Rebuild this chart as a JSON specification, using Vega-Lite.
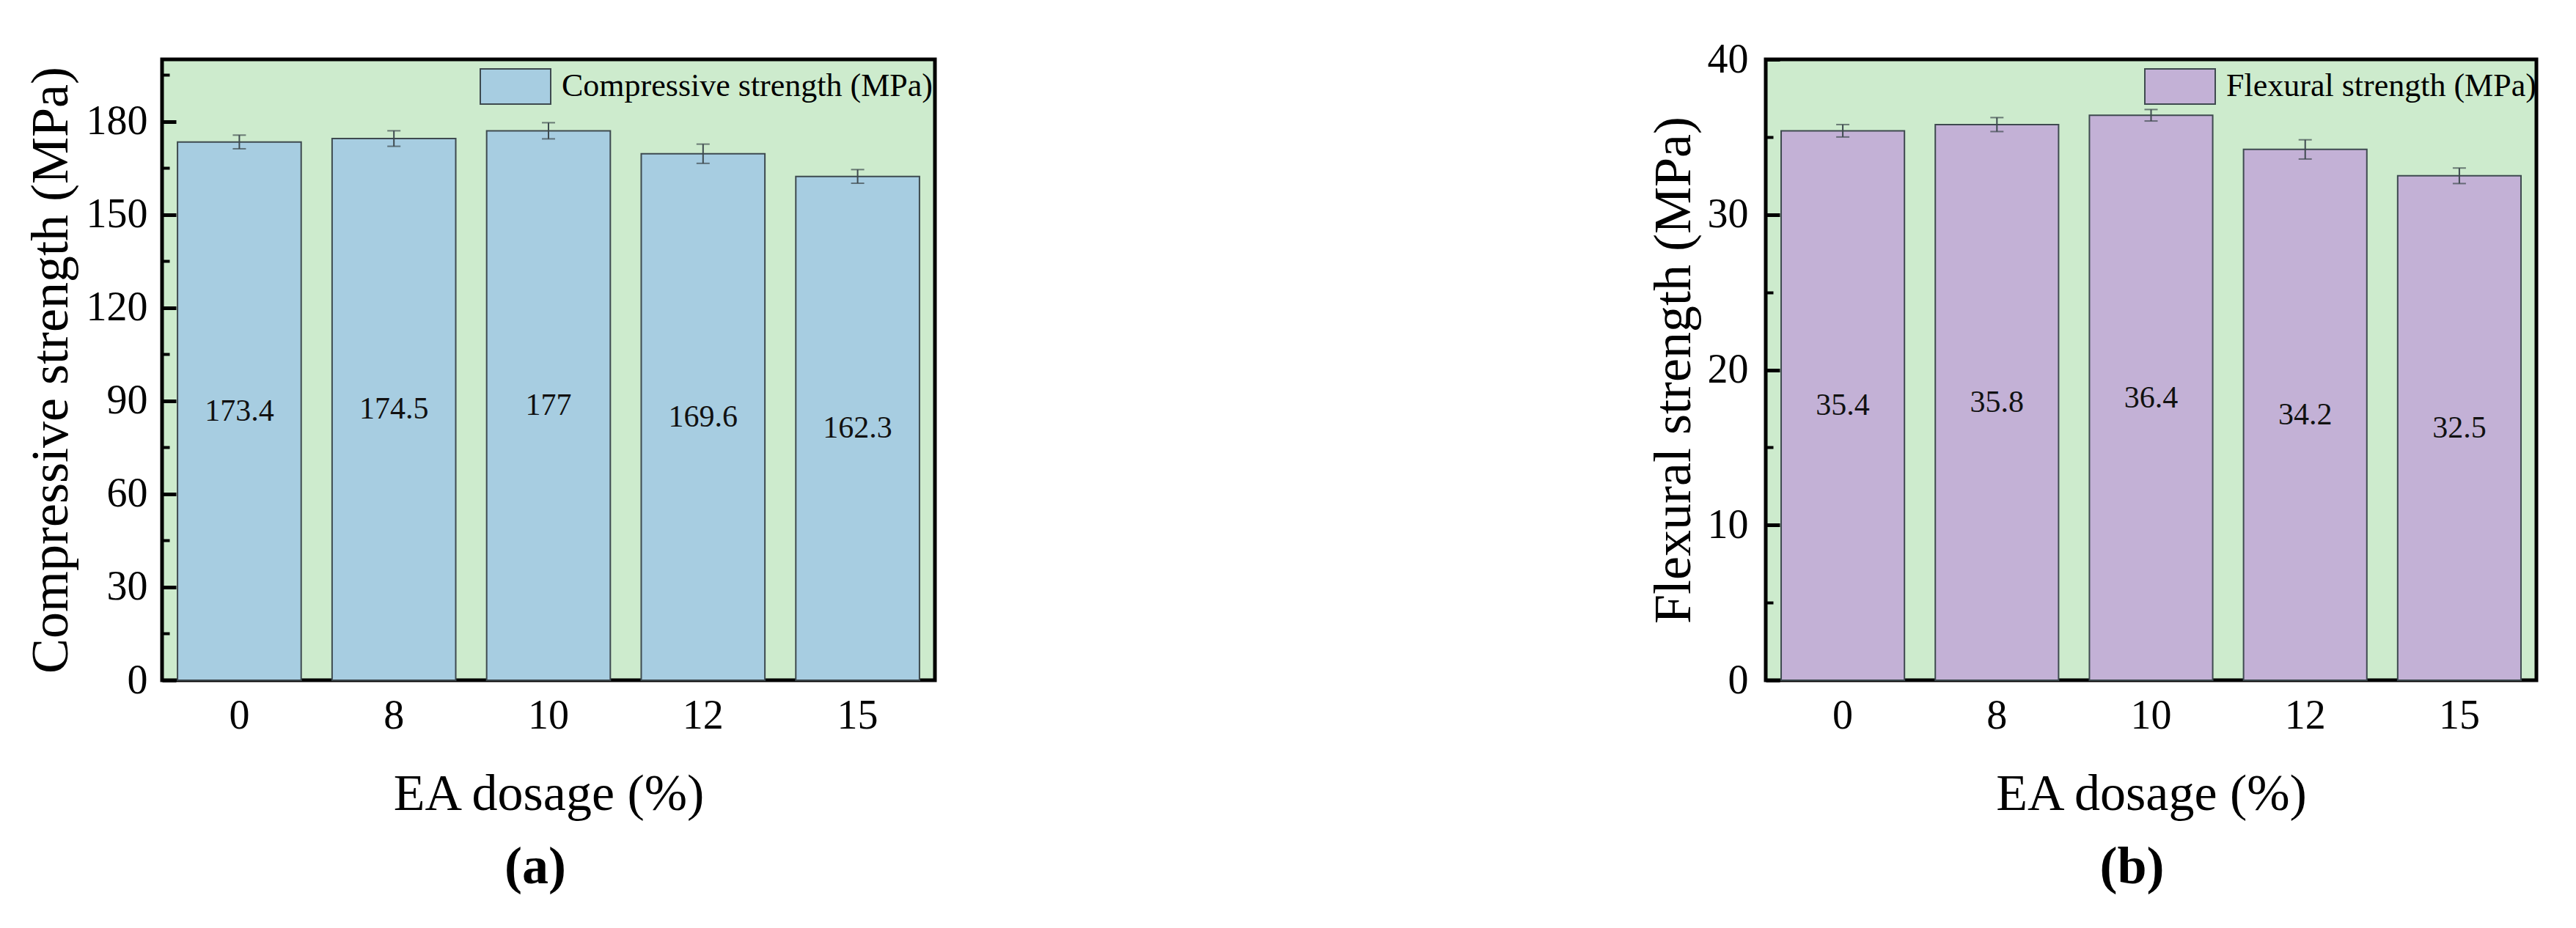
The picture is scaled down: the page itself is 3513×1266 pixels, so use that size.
{
  "$schema": "https://vega.github.io/schema/vega-lite/v6.json",
  "background": "white",
  "padding": {"left": 30, "top": 50, "right": 0, "bottom": 0},
  "datasets": {
    "comp": [
      {"dosage": "0", "value": 173.4, "err": 2.2},
      {"dosage": "8", "value": 174.5, "err": 2.5},
      {"dosage": "10", "value": 177, "err": 2.6},
      {"dosage": "12", "value": 169.6, "err": 3.1},
      {"dosage": "15", "value": 162.3, "err": 2.2}
    ],
    "flex": [
      {"dosage": "0", "value": 35.4, "err": 0.4},
      {"dosage": "8", "value": 35.8, "err": 0.45},
      {"dosage": "10", "value": 36.4, "err": 0.37},
      {"dosage": "12", "value": 34.2, "err": 0.62},
      {"dosage": "15", "value": 32.5, "err": 0.5}
    ]
  },
  "spacing": 965,
  "resolve": {"scale": {"color": "independent", "y": "independent", "x": "independent"}, "legend": {"color": "independent"}},
  "hconcat": [
    {
      "width": 1054,
      "height": 847,
      "data": {"name": "comp"},
      "title": {"text": "(a)", "orient": "bottom", "font": "Liberation Serif", "fontSize": 72, "fontWeight": "bold", "color": "black", "offset": 30, "dx": -18},
      "layer": [
        {
          "layer": [
            {
              "mark": {"type": "bar", "stroke": "#3e4a4f", "strokeWidth": 2},
              "encoding": {
                "x": {"field": "dosage", "type": "nominal", "sort": null, "title": "EA dosage (%)",
                  "scale": {"paddingInner": 0.2, "paddingOuter": 0.1},
                  "axis": {"labelAngle": 0, "ticks": false, "domain": false, "labelPadding": 21, "labelFont": "Liberation Serif", "titleFont": "Liberation Serif", "labelFontSize": 56, "titleFontSize": 70, "titlePadding": 45}},
                "y": {"field": "value", "type": "quantitative", "title": "Compressive strength (MPa)", "scale": {"domain": [0, 200], "nice": false},
                  "axis": {"orient": "left", "values": [0, 30, 60, 90, 120, 150, 180], "tickSize": -19, "tickWidth": 5, "tickColor": "black", "labelPadding": 39, "labelFont": "Liberation Serif", "titleFont": "Liberation Serif", "labelFontSize": 56, "labelFlush": false, "domain": false, "titleFontSize": 72, "titlePadding": 11}},
                "color": {"datum": "Compressive strength (MPa)", "type": "nominal", "scale": {"range": ["#a7cde1"]},
                  "legend": {"title": null, "orient": "none", "legendX": 433, "legendY": -12, "symbolType": "M-1,-0.5H1V0.5H-1Z", "symbolSize": 9216, "labelFontSize": 44, "labelFont": "Liberation Serif", "labelColor": "black", "labelLimit": 2000, "labelOffset": 14, "symbolStrokeColor": "#3e4a4f", "symbolStrokeWidth": 2, "symbolOpacity": 1}}
              }
            },
            {
              "mark": {"type": "errorbar", "color": "#3e4a4f", "thickness": 2, "ticks": {"size": 18, "thickness": 2, "color": "#3e4a4f"}},
              "encoding": {
                "x": {"field": "dosage", "type": "nominal", "sort": null, "title": "EA dosage (%)"},
                "y": {"field": "value", "type": "quantitative", "title": "Compressive strength (MPa)"},
                "yError": {"field": "err"}
              }
            }
          ]
        },
        {
          "mark": {"type": "text", "font": "Liberation Serif", "fontSize": 42, "color": "#111111", "baseline": "middle"},
          "encoding": {
            "x": {"field": "dosage", "type": "nominal", "sort": null, "title": "EA dosage (%)"},
            "y": {"field": "value", "type": "quantitative", "scale": {"domain": [0, 400], "nice": false},
              "axis": {"orient": "left", "values": [30, 90, 150, 210, 270, 330, 390], "tickSize": -10, "tickWidth": 4, "tickColor": "black", "labels": false, "domain": false, "title": null, "grid": false}},
            "text": {"field": "value", "type": "quantitative"}
          }
        }
      ],
      "resolve": {"scale": {"y": "independent"}}
    },
    {
      "width": 1051,
      "height": 847,
      "data": {"name": "flex"},
      "title": {"text": "(b)", "orient": "bottom", "font": "Liberation Serif", "fontSize": 72, "fontWeight": "bold", "color": "black", "offset": 30, "dx": -26},
      "layer": [
        {
          "layer": [
            {
              "mark": {"type": "bar", "stroke": "#3e4a4f", "strokeWidth": 2},
              "encoding": {
                "x": {"field": "dosage", "type": "nominal", "sort": null, "title": "EA dosage (%)",
                  "scale": {"paddingInner": 0.2, "paddingOuter": 0.1},
                  "axis": {"labelAngle": 0, "ticks": false, "domain": false, "labelPadding": 21, "labelFont": "Liberation Serif", "titleFont": "Liberation Serif", "labelFontSize": 56, "titleFontSize": 70, "titlePadding": 45}},
                "y": {"field": "value", "type": "quantitative", "title": "Flexural strength (MPa)", "scale": {"domain": [0, 40], "nice": false},
                  "axis": {"orient": "left", "values": [0, 10, 20, 30, 40], "tickSize": -19, "tickWidth": 5, "tickColor": "black", "labelPadding": 43, "labelFont": "Liberation Serif", "titleFont": "Liberation Serif", "labelFontSize": 56, "labelFlush": false, "domain": false, "titleFontSize": 72, "titlePadding": 9}},
                "color": {"datum": "Flexural strength (MPa)", "type": "nominal", "scale": {"range": ["#c3b1d6"]},
                  "legend": {"title": null, "orient": "none", "legendX": 516, "legendY": -12, "symbolType": "M-1,-0.5H1V0.5H-1Z", "symbolSize": 9216, "labelFontSize": 44, "labelFont": "Liberation Serif", "labelColor": "black", "labelLimit": 2000, "labelOffset": 14, "symbolStrokeColor": "#3e4a4f", "symbolStrokeWidth": 2, "symbolOpacity": 1}}
              }
            },
            {
              "mark": {"type": "errorbar", "color": "#3e4a4f", "thickness": 2, "ticks": {"size": 18, "thickness": 2, "color": "#3e4a4f"}},
              "encoding": {
                "x": {"field": "dosage", "type": "nominal", "sort": null, "title": "EA dosage (%)"},
                "y": {"field": "value", "type": "quantitative", "title": "Flexural strength (MPa)"},
                "yError": {"field": "err"}
              }
            }
          ]
        },
        {
          "mark": {"type": "text", "font": "Liberation Serif", "fontSize": 42, "color": "#111111", "baseline": "middle"},
          "encoding": {
            "x": {"field": "dosage", "type": "nominal", "sort": null, "title": "EA dosage (%)"},
            "y": {"field": "value", "type": "quantitative", "scale": {"domain": [0, 80], "nice": false},
              "axis": {"orient": "left", "values": [10, 30, 50, 70], "tickSize": -10, "tickWidth": 4, "tickColor": "black", "labels": false, "domain": false, "title": null, "grid": false}},
            "text": {"field": "value", "type": "quantitative"}
          }
        }
      ],
      "resolve": {"scale": {"y": "independent"}}
    }
  ],
  "config": {
    "font": "Liberation Serif",
    "view": {"fill": "#cdebcd", "stroke": "black", "strokeWidth": 5},
    "axis": {"labelFont": "Liberation Serif", "titleFont": "Liberation Serif", "labelColor": "black", "titleColor": "black", "titleFontWeight": "normal", "grid": false}
  }
}
